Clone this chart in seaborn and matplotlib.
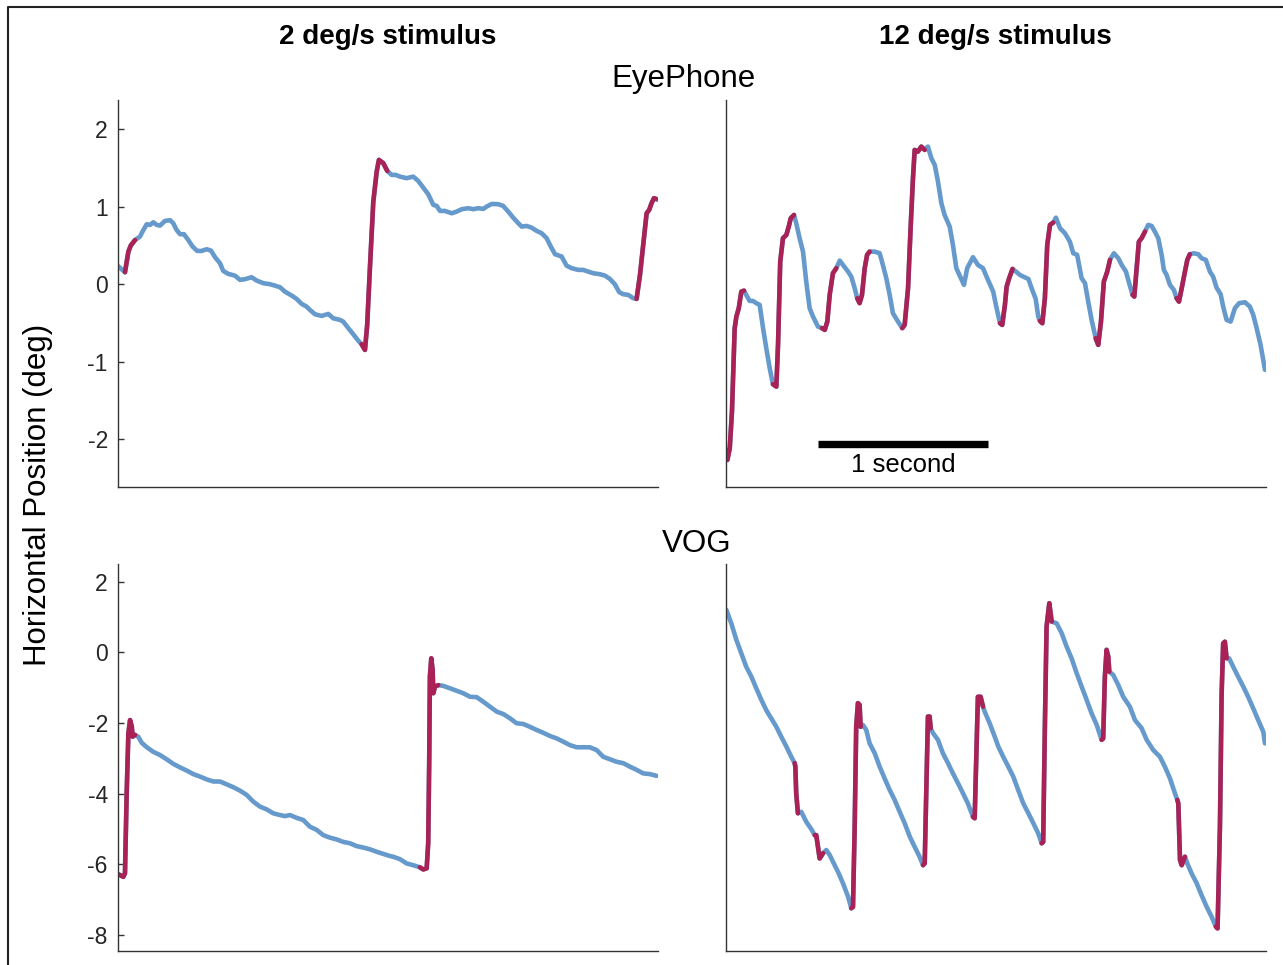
import numpy as np
import pandas as pd
import matplotlib
matplotlib.use("Agg")
import matplotlib.pyplot as plt
from matplotlib.lines import Line2D
import seaborn as sns

# ---------------- data (time in s, horizontal position in deg) ----------------
col_titles = ["2 deg/s stimulus", "12 deg/s stimulus"]
row_titles = ["EyePhone", "VOG"]
y_label = "Horizontal Position (deg)"
scale_label = "1 second"

eye_2_t = [0.000, 0.044, 0.064, 0.078, 0.103, 0.132, 0.152, 0.172, 0.191, 0.211, 0.231, 0.250, 0.279, 0.309,
           0.328, 0.348, 0.368, 0.391, 0.416, 0.442, 0.469, 0.495, 0.525, 0.550, 0.574, 0.603, 0.622, 0.652,
           0.691, 0.721, 0.750, 0.789, 0.819, 0.858, 0.897, 0.926, 0.956, 0.985, 1.025, 1.054, 1.084, 1.113,
           1.132, 1.162, 1.201, 1.240, 1.269, 1.309, 1.328, 1.358, 1.387, 1.416, 1.436, 1.456, 1.469, 1.485,
           1.505, 1.525, 1.538, 1.564, 1.587, 1.613, 1.638, 1.662, 1.701, 1.740, 1.769, 1.799, 1.828, 1.858,
           1.878, 1.897, 1.926, 1.966, 1.995, 2.025, 2.064, 2.093, 2.122, 2.152, 2.172, 2.201, 2.240, 2.269,
           2.299, 2.328, 2.358, 2.378, 2.407, 2.436, 2.466, 2.495, 2.525, 2.544, 2.574, 2.613, 2.642, 2.672,
           2.711, 2.740, 2.769, 2.799, 2.838, 2.868, 2.897, 2.926, 2.952, 2.975, 3.005, 3.034, 3.054, 3.074,
           3.093, 3.113, 3.128, 3.142, 3.156, 3.168, 3.178]
eye_2_v = [0.240, 0.155, 0.420, 0.500, 0.570, 0.615, 0.700, 0.775, 0.766, 0.800, 0.766, 0.757, 0.818, 0.827,
           0.788, 0.700, 0.646, 0.646, 0.572, 0.486, 0.430, 0.430, 0.452, 0.434, 0.349, 0.271, 0.172, 0.133,
           0.111, 0.056, 0.065, 0.090, 0.047, 0.013, 0.000, -0.018, -0.039, -0.096, -0.147, -0.190, -0.255,
           -0.290, -0.332, -0.388, -0.410, -0.384, -0.440, -0.461, -0.483, -0.568, -0.646, -0.729, -0.775,
           -0.849, -0.526, 0.207, 1.067, 1.455, 1.606, 1.563, 1.464, 1.412, 1.412, 1.390, 1.370, 1.390, 1.335,
           1.248, 1.163, 1.025, 1.012, 0.947, 0.947, 0.917, 0.938, 0.969, 0.982, 0.969, 0.982, 0.973, 1.003,
           1.037, 1.034, 1.012, 0.938, 0.860, 0.788, 0.744, 0.753, 0.731, 0.689, 0.659, 0.594, 0.508, 0.388,
           0.357, 0.240, 0.207, 0.185, 0.185, 0.163, 0.142, 0.129, 0.111, 0.068, 0.000, -0.103, -0.129, -0.138,
           -0.181, -0.190, 0.120, 0.508, 0.917, 0.960, 1.047, 1.111, 1.102, 1.089]
eye_2_sacc = [(0.044, 0.103), (1.436, 1.587), (3.054, 3.168)]

eye_12_t = [0.000, 0.011, 0.025, 0.038, 0.054, 0.064, 0.078, 0.093, 0.109, 0.122, 0.142, 0.162, 0.181, 0.201,
            0.221, 0.240, 0.260, 0.279, 0.299, 0.309, 0.322, 0.338, 0.358, 0.372, 0.384, 0.403, 0.416, 0.436,
            0.456, 0.475, 0.495, 0.515, 0.544, 0.568, 0.584, 0.599, 0.613, 0.632, 0.652, 0.672, 0.691, 0.721,
            0.740, 0.760, 0.775, 0.789, 0.803, 0.819, 0.833, 0.848, 0.878, 0.907, 0.926, 0.946, 0.966, 0.985,
            1.015, 1.040, 1.054, 1.074, 1.089, 1.103, 1.113, 1.132, 1.152, 1.172, 1.191, 1.211, 1.231, 1.250,
            1.270, 1.289, 1.319, 1.338, 1.358, 1.381, 1.403, 1.422, 1.456, 1.485, 1.515, 1.544, 1.575, 1.595,
            1.615, 1.628, 1.644, 1.654, 1.669, 1.689, 1.709, 1.732, 1.752, 1.782, 1.801, 1.825, 1.840, 1.850,
            1.864, 1.879, 1.893, 1.909, 1.928, 1.944, 1.968, 1.997, 2.026, 2.046, 2.069, 2.095, 2.115, 2.134,
            2.154, 2.178, 2.193, 2.209, 2.226, 2.246, 2.262, 2.285, 2.311, 2.331, 2.356, 2.375, 2.395, 2.405,
            2.419, 2.432, 2.448, 2.468, 2.487, 2.507, 2.526, 2.546, 2.566, 2.579, 2.595, 2.615, 2.638, 2.654,
            2.668, 2.684, 2.703, 2.717, 2.732, 2.756, 2.781, 2.801, 2.826, 2.850, 2.869, 2.889, 2.913, 2.928,
            2.948, 2.972, 2.997, 3.022, 3.056, 3.085, 3.105, 3.125, 3.148, 3.174]
eye_12_v = [-2.140, -2.270, -2.120, -1.646, -0.568, -0.419, -0.310, -0.096, -0.083, -0.138, -0.216, -0.216,
            -0.245, -0.267, -0.568, -0.827, -1.085, -1.292, -1.323, -0.784, 0.292, 0.594, 0.637, 0.744, 0.853,
            0.895, 0.788, 0.594, 0.421, 0.034, -0.310, -0.419, -0.548, -0.568, -0.590, -0.483, -0.138, 0.142,
            0.207, 0.305, 0.249, 0.163, 0.098, -0.052, -0.181, -0.245, -0.138, 0.207, 0.379, 0.421, 0.421,
            0.400, 0.249, 0.078, -0.138, -0.375, -0.483, -0.568, -0.526, -0.052, 0.724, 1.370, 1.735, 1.713,
            1.778, 1.735, 1.778, 1.628, 1.541, 1.326, 1.047, 0.895, 0.744, 0.508, 0.207, 0.098, -0.009, 0.207,
            0.349, 0.249, 0.207, 0.056, -0.096, -0.310, -0.504, -0.526, -0.267, -0.031, 0.078, 0.198, 0.163,
            0.120, 0.098, 0.068, -0.052, -0.190, -0.419, -0.474, -0.504, -0.181, 0.508, 0.766, 0.796, 0.860,
            0.724, 0.659, 0.550, 0.400, 0.379, 0.078, 0.013, -0.225, -0.461, -0.698, -0.784, -0.483, 0.034,
            0.163, 0.314, 0.400, 0.336, 0.249, 0.163, 0.013, -0.138, -0.160, 0.207, 0.550, 0.594, 0.680, 0.766,
            0.753, 0.680, 0.594, 0.379, 0.185, 0.120, -0.009, -0.074, -0.181, -0.225, -0.052, 0.163, 0.314,
            0.388, 0.400, 0.388, 0.336, 0.314, 0.163, 0.098, -0.044, -0.129, -0.289, -0.461, -0.483, -0.310,
            -0.245, -0.233, -0.289, -0.397, -0.568, -0.784, -1.107]
eye_12_sacc = [(0.000, 0.109), (0.279, 0.403), (0.568, 0.652), (0.775, 0.848), (1.040, 1.172),
               (1.615, 1.689), (1.850, 1.928), (2.178, 2.262), (2.395, 2.468), (2.654, 2.732)]

vog_2_t = [0.000, 0.015, 0.034, 0.044, 0.054, 0.064, 0.074, 0.084, 0.089, 0.103, 0.122, 0.142, 0.172, 0.211,
           0.250, 0.289, 0.328, 0.368, 0.407, 0.446, 0.485, 0.525, 0.564, 0.603, 0.642, 0.681, 0.721, 0.760,
           0.799, 0.838, 0.878, 0.916, 0.956, 0.985, 1.015, 1.054, 1.093, 1.132, 1.172, 1.211, 1.250, 1.289,
           1.328, 1.368, 1.407, 1.446, 1.485, 1.525, 1.564, 1.603, 1.622, 1.662, 1.701, 1.740, 1.779, 1.799,
           1.819, 1.828, 1.834, 1.838, 1.846, 1.854, 1.858, 1.868, 1.887, 1.916, 1.956, 1.995, 2.034, 2.074,
           2.113, 2.152, 2.191, 2.231, 2.270, 2.309, 2.348, 2.387, 2.426, 2.466, 2.505, 2.544, 2.584, 2.622,
           2.662, 2.701, 2.740, 2.779, 2.819, 2.858, 2.897, 2.936, 2.975, 3.015, 3.054, 3.093, 3.132, 3.172]
vog_2_v = [-6.28, -6.31, -6.36, -6.26, -3.99, -2.29, -1.92, -2.11, -2.39, -2.34, -2.39, -2.56, -2.69, -2.82,
           -2.91, -3.03, -3.16, -3.26, -3.35, -3.45, -3.52, -3.60, -3.66, -3.66, -3.74, -3.82, -3.92, -4.04,
           -4.23, -4.37, -4.45, -4.56, -4.61, -4.64, -4.61, -4.69, -4.75, -4.94, -5.03, -5.18, -5.25, -5.30,
           -5.37, -5.41, -5.49, -5.53, -5.58, -5.65, -5.71, -5.77, -5.79, -5.86, -5.98, -6.03, -6.09, -6.15,
           -6.12, -5.41, -3.05, -0.69, -0.17, -0.50, -1.16, -0.97, -0.93, -0.95, -1.02, -1.09, -1.16, -1.26,
           -1.27, -1.40, -1.54, -1.68, -1.75, -1.87, -2.01, -2.03, -2.11, -2.20, -2.28, -2.37, -2.44, -2.53,
           -2.63, -2.69, -2.69, -2.69, -2.77, -2.96, -3.03, -3.10, -3.14, -3.24, -3.33, -3.43, -3.45, -3.50]
vog_2_sacc = [(0.000, 0.103), (1.779, 1.887)]

vog_12_t = [0.005, 0.034, 0.064, 0.093, 0.122, 0.152, 0.181, 0.211, 0.240, 0.269, 0.299, 0.328, 0.358, 0.387,
            0.407, 0.411, 0.416, 0.426, 0.446, 0.475, 0.505, 0.525, 0.534, 0.544, 0.554, 0.574, 0.593, 0.613,
            0.632, 0.662, 0.691, 0.721, 0.740, 0.750, 0.760, 0.769, 0.779, 0.789, 0.795, 0.809, 0.828, 0.848,
            0.878, 0.907, 0.936, 0.966, 0.995, 1.025, 1.054, 1.084, 1.113, 1.142, 1.162, 1.172, 1.181, 1.191,
            1.201, 1.207, 1.221, 1.250, 1.279, 1.309, 1.338, 1.368, 1.397, 1.426, 1.456, 1.466, 1.475, 1.485,
            1.501, 1.515, 1.525, 1.554, 1.584, 1.605, 1.634, 1.664, 1.693, 1.722, 1.752, 1.782, 1.811, 1.840,
            1.860, 1.869, 1.879, 1.889, 1.905, 1.919, 1.948, 1.978, 2.007, 2.036, 2.066, 2.095, 2.125, 2.154,
            2.184, 2.213, 2.222, 2.232, 2.242, 2.252, 2.258, 2.281, 2.311, 2.340, 2.379, 2.409, 2.448, 2.478,
            2.517, 2.556, 2.585, 2.615, 2.644, 2.658, 2.664, 2.674, 2.684, 2.703, 2.717, 2.742, 2.772, 2.801,
            2.831, 2.860, 2.885, 2.895, 2.909, 2.919, 2.928, 2.938, 2.948, 2.963, 2.987, 3.016, 3.046, 3.075,
            3.105, 3.134, 3.164, 3.174]
vog_12_v = [1.20, 0.82, 0.35, -0.03, -0.41, -0.69, -1.02, -1.35, -1.64, -1.87, -2.11, -2.39, -2.67, -2.96,
            -3.14, -3.24, -3.99, -4.56, -4.52, -4.80, -5.01, -5.18, -5.18, -5.51, -5.84, -5.69, -5.60, -5.74,
            -5.93, -6.22, -6.54, -6.92, -7.25, -7.21, -4.94, -2.11, -1.44, -1.49, -2.11, -2.06, -2.20, -2.58,
            -2.86, -3.24, -3.57, -3.90, -4.18, -4.52, -4.84, -5.22, -5.51, -5.79, -6.03, -5.98, -3.99, -1.82,
            -1.82, -2.15, -2.29, -2.48, -2.86, -3.14, -3.43, -3.71, -3.99, -4.28, -4.66, -4.70, -3.05, -1.26,
            -1.26, -1.54, -1.68, -2.01, -2.39, -2.67, -2.96, -3.24, -3.52, -3.90, -4.28, -4.56, -4.84, -5.13,
            -5.41, -5.37, -2.11, 0.73, 1.39, 0.87, 0.82, 0.54, 0.16, -0.17, -0.59, -0.97, -1.35, -1.73,
            -2.06, -2.48, -2.44, -0.69, 0.07, -0.12, -0.55, -0.64, -0.93, -1.26, -1.54, -1.92, -2.15, -2.48,
            -2.77, -2.96, -3.24, -3.57, -3.99, -4.18, -4.28, -5.88, -6.03, -5.79, -5.98, -6.26, -6.54, -6.88,
            -7.21, -7.49, -7.77, -7.82, -4.94, -1.16, 0.25, 0.30, -0.17, -0.17, -0.41, -0.69, -0.97, -1.26,
            -1.59, -1.92, -2.25, -2.58]
vog_12_sacc = [(0.407, 0.426), (0.525, 0.574), (0.740, 0.795), (1.162, 1.207), (1.456, 1.515),
               (1.860, 1.919), (2.213, 2.258), (2.658, 2.703), (2.885, 2.948)]

top_yticks = [-2, -1, 0, 1, 2]
bottom_yticks = [-8, -6, -4, -2, 0, 2]
scale_bar_start = 0.544   # s
scale_bar_len = 1.0       # s
scale_bar_y = -2.06       # deg

# ---------------- style ----------------
sns.set_theme(style="white")
plt.rcParams["font.family"] = ["Liberation Sans", "DejaVu Sans"]
plt.rcParams["axes.edgecolor"] = "#333333"
plt.rcParams["axes.linewidth"] = 1.0

BLUE = "#6699CC"
RED = "#AA2255"
LW = 3.3
TXT = "#262626"

W, H = 1283, 965
fig = plt.figure(figsize=(W / 100, H / 100), dpi=100)


def px_axes(left, top, right, bottom):
    return fig.add_axes([left / W, 1 - bottom / H, (right - left) / W, (bottom - top) / H])


axes = {
    (0, 0): px_axes(117.5, 100, 658, 487),
    (0, 1): px_axes(725.5, 100, 1266, 487),
    (1, 0): px_axes(117.5, 564, 658, 951),
    (1, 1): px_axes(725.5, 564, 1266, 951),
}

traces = {
    (0, 0): (eye_2_t, eye_2_v, eye_2_sacc),
    (0, 1): (eye_12_t, eye_12_v, eye_12_sacc),
    (1, 0): (vog_2_t, vog_2_v, vog_2_sacc),
    (1, 1): (vog_12_t, vog_12_v, vog_12_sacc),
}

XLIM = (0, 3.18)
YLIMS = {0: (-2.62, 2.38), 1: (-8.46, 2.50)}

for key, ax in axes.items():
    t, v, sacc = traces[key]
    df = pd.DataFrame({"t": t, "v": v})
    sns.lineplot(data=df, x="t", y="v", ax=ax, color=BLUE, linewidth=LW, sort=False,
                 estimator=None, solid_capstyle="round", solid_joinstyle="round")
    for (ts, te) in sacc:
        seg = df[(df["t"] >= ts - 1e-9) & (df["t"] <= te + 1e-9)]
        sns.lineplot(data=seg, x="t", y="v", ax=ax, color=RED, linewidth=LW, sort=False,
                     estimator=None, solid_capstyle="round", solid_joinstyle="round")
    ax.set_xlim(*XLIM)
    ax.set_ylim(*YLIMS[key[0]])
    ax.set_xlabel("")
    ax.set_ylabel("")
    ax.set_xticks([])
    for s in ("top", "right"):
        ax.spines[s].set_visible(False)
    if key[1] == 0:
        ax.set_yticks(top_yticks if key[0] == 0 else bottom_yticks)
        ax.set_yticklabels([str(x) for x in (top_yticks if key[0] == 0 else bottom_yticks)])
        ax.tick_params(axis="y", direction="in", length=4.3, width=1.0, color="#333333",
                       labelsize=16.5, labelcolor=TXT, pad=7, left=True)
    else:
        ax.set_yticks([])
    ax.patch.set_alpha(0)

# scale bar
ax = axes[(0, 1)]
sns.lineplot(x=[scale_bar_start, scale_bar_start + scale_bar_len], y=[scale_bar_y, scale_bar_y],
             ax=ax, color="black", linewidth=5.3, solid_capstyle="butt")
ax.text(scale_bar_start + scale_bar_len / 2, -2.42, scale_label, ha="center", va="baseline",
        fontsize=18.5, color="black")

# titles
fig.text(387.8 / W, 1 - 43.5 / H, col_titles[0], ha="center", va="baseline",
         fontsize=20, fontweight="bold", color="black")
fig.text(995.8 / W, 1 - 43.5 / H, col_titles[1], ha="center", va="baseline",
         fontsize=20, fontweight="bold", color="black")
fig.text(683.5 / W, 1 - 87.5 / H, row_titles[0], ha="center", va="baseline", fontsize=22.5, color="black")
fig.text(696.5 / W, 1 - 552.5 / H, row_titles[1], ha="center", va="baseline", fontsize=22.5, color="black")
fig.text(38 / W, 1 - 495 / H, y_label, ha="center", va="center", rotation=90, fontsize=22.5, color="black")

# outer frame (left and top edges)
fig.add_artist(Line2D([8 / W, 8 / W, 1.0], [0.0, 1 - 7.3 / H, 1 - 7.3 / H],
                      transform=fig.transFigure, color="#222222", lw=1.5))

fig.savefig("out.png", dpi=100)
